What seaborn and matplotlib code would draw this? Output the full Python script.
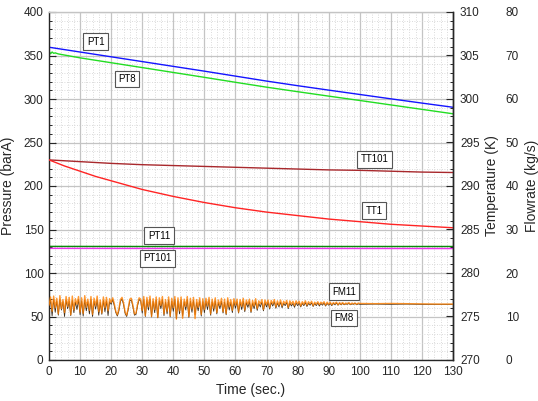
import numpy as np
import matplotlib
matplotlib.use("Agg")
import matplotlib.pyplot as plt
from matplotlib.ticker import MultipleLocator
import seaborn as sns

# ---- pressure series (barA) ----
pt1_time = [0, 10, 20, 30, 40, 50, 60, 70, 80, 90, 100, 110, 120, 130]
pt1_vals = [359.5, 354.0, 348.5, 343.0, 337.5, 332.0, 326.3, 320.6, 315.3, 310.2, 305.2, 300.2, 295.3, 290.5]

pt8_time = [0, 0.5, 1, 1.5, 2, 3, 10, 20, 30, 40, 50, 60, 70, 80, 90, 100, 110, 120, 130]
pt8_vals = [355.0, 352.0, 354.0, 352.5, 353.0, 351.8, 347.3, 341.7, 336.1, 330.5, 324.9, 319.2, 313.6, 308.4, 303.3, 298.3, 293.2, 288.1, 283.0]

pt11_time = [0, 30, 60, 90, 130]
pt11_vals = [130.6, 130.5, 130.6, 130.5, 130.5]

pt101_time = [0, 30, 60, 90, 130]
pt101_vals = [128.3, 128.2, 128.3, 128.2, 128.1]

# ---- temperature series (K) ----
tt101_time = [0, 5, 10, 20, 30, 40, 50, 60, 70, 80, 90, 100, 110, 120, 130]
tt101_vals = [293.0, 292.9, 292.8, 292.6, 292.45, 292.35, 292.25, 292.15, 292.05, 291.95, 291.85, 291.8, 291.7, 291.6, 291.55]

tt1_time = [0, 5, 10, 15, 20, 30, 40, 50, 60, 70, 80, 90, 100, 110, 120, 130]
tt1_vals = [293.0, 292.3, 291.7, 291.1, 290.6, 289.6, 288.8, 288.1, 287.5, 287.0, 286.6, 286.2, 285.9, 285.6, 285.4, 285.2]

# ---- flowrate series (kg/s), sampled every 0.5 s up to 100 s, then sparse ----
fm_time = list(np.arange(0, 100.5, 0.5)) + [105, 110, 115, 120, 125, 130]

fm11_vals = [
    12.6, 14.5, 11.2, 14.7, 12.0, 14.2, 10.6, 14.8, 11.8, 13.9, 10.9, 14.6, 12.3, 14.4, 10.4, 14.7, 11.5, 14.1, 12.8, 14.6,
    11.0, 14.3, 10.7, 14.8, 12.1, 14.0, 11.4, 14.6, 10.5, 14.2, 12.4, 14.7, 11.1, 13.8, 10.8, 14.5, 12.0, 14.4, 11.3, 14.1,
    13.2, 14.3, 13.0, 11.2, 10.4, 11.8, 13.9, 14.4, 13.1, 11.0, 10.3, 12.0, 14.0, 14.2, 12.6, 10.6, 10.8, 12.9, 14.3, 14.0,
    11.4, 14.6, 10.2, 14.4, 12.2, 14.7, 10.0, 14.1, 11.6, 14.5, 9.8, 14.3, 12.5, 14.6, 10.6, 13.9, 11.2, 14.5, 10.1, 14.2,
    12.0, 14.6, 9.4, 14.3, 11.3, 14.5, 9.6, 14.0, 12.3, 14.6, 10.0, 14.2, 11.7, 14.4, 9.5, 13.9, 12.1, 14.3, 10.5, 14.1,
    11.6, 14.2, 12.4, 14.4, 10.6, 14.0, 11.9, 14.3, 10.9, 13.8, 12.5, 14.2, 11.1, 14.0, 10.7, 14.3, 12.2, 13.9, 11.4, 14.1,
    12.6, 14.0, 11.0, 13.9, 12.3, 14.2, 11.5, 13.8, 12.8, 14.0, 11.2, 13.7, 12.4, 14.1, 11.8, 13.6, 12.9, 13.9, 11.6, 13.8,
    12.7, 13.8, 12.0, 13.7, 12.9, 13.9, 12.2, 13.6, 12.6, 13.8, 12.4, 13.5, 12.9, 13.7, 12.1, 13.6, 12.8, 13.5, 12.5, 13.6,
    12.9, 13.5, 12.4, 13.4, 12.8, 13.6, 12.6, 13.4, 12.9, 13.5, 12.5, 13.3, 12.8, 13.4, 12.7, 13.3, 12.9, 13.4, 12.6, 13.3,
    12.8, 13.3, 12.7, 13.2, 12.9, 13.3, 12.7, 13.2, 12.8, 13.2, 12.8, 13.1, 12.9, 13.2, 12.8, 13.1, 12.9, 13.1, 12.8, 13.1,
    13.0,
    12.95, 13.0, 12.95, 12.9, 12.85, 12.85,
]

fm8_vals = [
    12.2, 13.8, 10.1, 14.0, 11.0, 13.6, 10.3, 13.9, 11.5, 13.4, 10.0, 13.8, 11.8, 13.5, 10.2, 13.7, 10.9, 13.3, 11.6, 13.9,
    10.4, 13.6, 10.1, 13.8, 11.3, 13.4, 10.6, 13.9, 10.0, 13.5, 11.7, 13.8, 10.3, 13.2, 10.5, 13.7, 11.1, 13.6, 10.2, 13.4,
    12.8, 13.9, 12.5, 10.9, 10.1, 11.3, 13.5, 14.0, 12.7, 10.7, 10.0, 11.6, 13.6, 13.8, 12.2, 10.3, 10.5, 12.5, 13.9, 13.6,
    10.8, 13.9, 10.0, 13.7, 11.5, 14.0, 9.9, 13.5, 10.9, 13.8, 9.7, 13.6, 11.8, 13.9, 10.2, 13.3, 10.6, 13.8, 9.9, 13.5,
    11.2, 13.9, 9.5, 13.6, 10.6, 13.8, 10.1, 13.4, 11.5, 13.9, 9.8, 13.5, 11.0, 13.7, 10.4, 13.2, 11.3, 13.6, 10.1, 13.4,
    10.9, 13.5, 11.6, 13.7, 10.3, 13.4, 11.2, 13.6, 10.6, 13.2, 11.8, 13.5, 10.8, 13.3, 10.4, 13.6, 11.5, 13.2, 10.9, 13.4,
    11.9, 13.4, 10.8, 13.3, 11.6, 13.5, 11.1, 13.2, 12.1, 13.4, 10.9, 13.1, 11.8, 13.4, 11.4, 13.0, 12.2, 13.3, 11.3, 13.2,
    12.2, 13.3, 11.7, 13.2, 12.4, 13.4, 11.9, 13.1, 12.2, 13.3, 12.0, 13.0, 12.5, 13.2, 11.8, 13.1, 12.4, 13.0, 12.1, 13.1,
    12.5, 13.1, 12.2, 13.0, 12.5, 13.2, 12.3, 13.0, 12.6, 13.1, 12.3, 13.0, 12.5, 13.1, 12.4, 13.0, 12.6, 13.1, 12.4, 13.0,
    12.6, 13.0, 12.5, 13.0, 12.7, 13.1, 12.6, 13.0, 12.7, 13.0, 12.7, 12.9, 12.8, 13.0, 12.7, 12.9, 12.8, 13.0, 12.7, 12.9,
    12.8,
    12.85, 12.8, 12.85, 12.8, 12.8, 12.8,
]

# ---- tag labels: (text, time, pressure-axis position) ----
tag_names = ["PT1", "PT8", "TT101", "TT1", "PT11", "PT101", "FM11", "FM8"]
tag_time = [15.0, 25.1, 104.7, 104.7, 35.4, 34.9, 94.9, 94.9]
tag_pos = [366, 323, 230.5, 171.8, 143, 116.7, 78.7, 48.3]

sns.set_style("white")
plt.rcParams["font.family"] = ["Liberation Sans", "DejaVu Sans"]
plt.rcParams["axes.linewidth"] = 1.0

fig = plt.figure(figsize=(5.38, 4.01), dpi=100)
ax = fig.add_axes([49 / 538, 41 / 401, (453 - 49) / 538, (360 - 12) / 401])
ax_t = ax.twinx()
ax_f = ax.twinx()

# grid on the pressure axes
ax.set_xlim(0, 130)
ax.set_ylim(0, 400)
ax.xaxis.set_major_locator(MultipleLocator(10))
ax.xaxis.set_minor_locator(MultipleLocator(2))
ax.yaxis.set_major_locator(MultipleLocator(50))
ax.yaxis.set_minor_locator(MultipleLocator(10))
ax.grid(which="major", color="#c4c4c4", linewidth=0.9, linestyle="-")
ax.grid(which="minor", color="#cfcfcf", linewidth=0.6, linestyle=(0, (1, 2)))
ax.set_axisbelow(True)

lw = 1.0
kw = dict(estimator=None, sort=False, linewidth=lw)
sns.lineplot(x=pt1_time, y=pt1_vals, ax=ax, color="#1414ff", **kw)
sns.lineplot(x=pt8_time, y=pt8_vals, ax=ax, color="#22dd22", **kw)
sns.lineplot(x=pt101_time, y=pt101_vals, ax=ax, color="#ee33ee", **kw)
sns.lineplot(x=pt11_time, y=pt11_vals, ax=ax, color="#0a8a0a", **kw)

ax_t.set_ylim(270, 310)
sns.lineplot(x=tt101_time, y=tt101_vals, ax=ax_t, color="#a8282c", **kw)
sns.lineplot(x=tt1_time, y=tt1_vals, ax=ax_t, color="#ff2424", **kw)

ax_f.set_ylim(0, 80)
sns.lineplot(x=fm_time, y=fm8_vals, ax=ax_f, color="#3a2a1a", estimator=None, sort=False, linewidth=0.6)
sns.lineplot(x=fm_time, y=fm11_vals, ax=ax_f, color="#ff8000", estimator=None, sort=False, linewidth=1.0, alpha=0.8)

for name, tx, ty in zip(tag_names, tag_time, tag_pos):
    ax_f.text(tx, ty, name, transform=ax.transData, ha="center", va="center",
              fontsize=7, color="black", zorder=10,
              bbox=dict(boxstyle="square,pad=0.35", facecolor="white",
                        edgecolor="#555555", linewidth=0.8))

# axes, ticks and labels
ax.tick_params(which="both", direction="in", top=False, right=False, labelsize=8.5, pad=4)
ax.tick_params(which="major", length=5, width=0.8)
ax.tick_params(which="minor", length=2.5, width=0.7)
ax.set_xlabel("Time (sec.)", fontsize=10, labelpad=4)
ax.set_ylabel("Pressure (barA)", fontsize=10, labelpad=6)
ax.spines["top"].set_color("#c4c4c4")

ax_t.yaxis.set_major_locator(MultipleLocator(5))
ax_t.yaxis.set_minor_locator(MultipleLocator(1))
ax_t.tick_params(which="both", direction="in", labelsize=8.5, pad=5)
ax_t.tick_params(which="major", length=5, width=0.8)
ax_t.tick_params(which="minor", length=2.5, width=0.7)
ax_t.set_ylabel("Temperature (K)", fontsize=10, labelpad=4)
for s in ["top", "left", "bottom"]:
    ax_t.spines[s].set_visible(False)

# flowrate scale sits further right, without its own spine
ax_f.spines["right"].set_position(("outward", 33))
for s in ["top", "left", "bottom", "right"]:
    ax_f.spines[s].set_visible(False)
ax_f.yaxis.set_major_locator(MultipleLocator(10))
ax_f.tick_params(which="both", length=0, labelsize=8.5, pad=5)
ax_f.set_ylabel("Flowrate (kg/s)", fontsize=10, labelpad=4)

for a in (ax, ax_t, ax_f):
    a.set_xlim(0, 130)

fig.savefig("out.png", dpi=100)
